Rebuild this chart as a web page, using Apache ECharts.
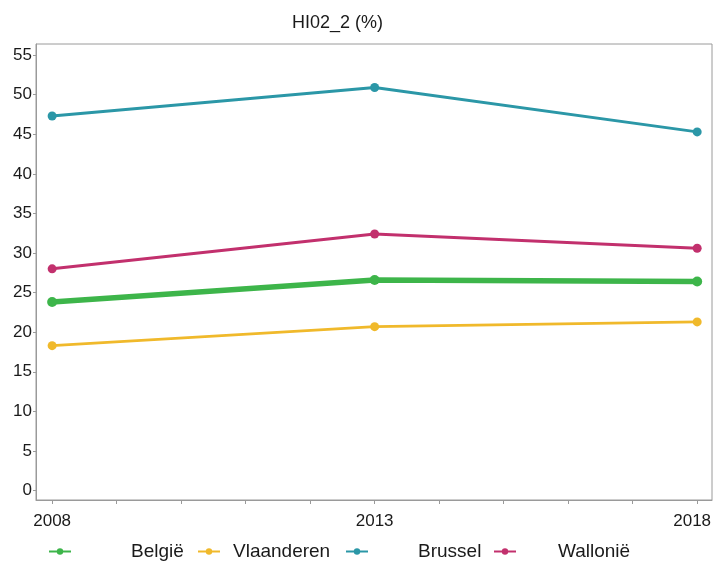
<!DOCTYPE html>
<html>
<head>
<meta charset="utf-8">
<script src="https://cdn.jsdelivr.net/npm/echarts@6/dist/echarts.min.js"></script>
<style>html,body{margin:0;padding:0;background:#fff}#c{width:713px;height:562px}</style>
</head>
<body>
<div id="c"></div>
<script>
const years = [2008, 2013, 2018];
const xTicks = [2008, 2009, 2010, 2011, 2012, 2013, 2014, 2015, 2016, 2017, 2018];
const xLabels = [2008, 2013, 2018];
const yLabels = [0, 5, 10, 15, 20, 25, 30, 35, 40, 45, 50, 55];
const belgie = [23.8, 26.6, 26.4];
const vlaanderen = [18.3, 20.7, 21.3];
const brussel = [47.3, 50.9, 45.3];
const wallonie = [28.0, 32.4, 30.6];
const names = ['België', 'Vlaanderen', 'Brussel', 'Wallonië'];
const colors = ['#3db54a', '#f0b92b', '#2b97a7', '#c2306d'];

const font = '"Liberation Sans", Arial, sans-serif';
const chart = echarts.init(document.getElementById('c'));

function mk(name, vals, color, width, sym) {
  return {
    name: name, type: 'line', data: years.map((y, i) => [y, vals[i]]),
    symbol: 'circle', symbolSize: sym,
    lineStyle: { color: color, width: width },
    itemStyle: { color: color },
    emphasis: { disabled: true }, animation: false
  };
}

const legLeft = [48, 197, 345, 493];
const legPad = [55, 8, 45, 37];
const lastX = xLabels[xLabels.length - 1];

chart.setOption({
  animation: false,
  title: { text: 'HI02_2 (%)', left: 287, top: 9,
    textStyle: { fontFamily: font, fontSize: 18, fontWeight: 'normal', color: '#1a1a1a' } },
  grid: { left: 36, right: 1, top: 44, bottom: 62, show: true, borderColor: '#9a9a9a', borderWidth: 1,
    containLabel: false, outerBoundsMode: 'none' },
  xAxis: {
    type: 'value', min: 2007.75, max: 2018.23,
    axisLine: { show: true, onZero: false, lineStyle: { color: '#9a9a9a' } },
    axisTick: { show: true, inside: false, customValues: xTicks, length: 4, lineStyle: { color: '#9a9a9a' } },
    axisLabel: { customValues: xLabels,
      formatter: v => v === lastX ? '{r|' + v + '}' : String(v),
      rich: { r: { fontFamily: font, fontSize: 17, color: '#1a1a1a', padding: [0, 10, 0, 0] } },
      fontFamily: font, fontSize: 17, color: '#1a1a1a', margin: 13 },
    splitLine: { show: false }
  },
  yAxis: {
    type: 'value', min: -1.2, max: 56.4,
    axisLine: { show: true, onZero: false, lineStyle: { color: '#9a9a9a' } },
    axisTick: { show: true, inside: false, customValues: yLabels, length: 3, lineStyle: { color: '#9a9a9a' } },
    axisLabel: { customValues: yLabels, fontFamily: font, fontSize: 17, color: '#1a1a1a', margin: 4 },
    splitLine: { show: false }
  },
  legend: names.map((n, i) => ({
    data: [n], left: legLeft[i], top: 542, padding: 0, itemWidth: 22, itemHeight: 8, itemGap: 0,
    selectedMode: false,
    textStyle: { fontFamily: font, fontSize: 19, color: '#1a1a1a', padding: [0, 0, 0, legPad[i]] }
  })),
  series: [
    mk(names[0], belgie, colors[0], 5.5, 10),
    mk(names[1], vlaanderen, colors[1], 3, 9),
    mk(names[2], brussel, colors[2], 3, 9),
    mk(names[3], wallonie, colors[3], 3, 9)
  ]
});
</script>
</body>
</html>
